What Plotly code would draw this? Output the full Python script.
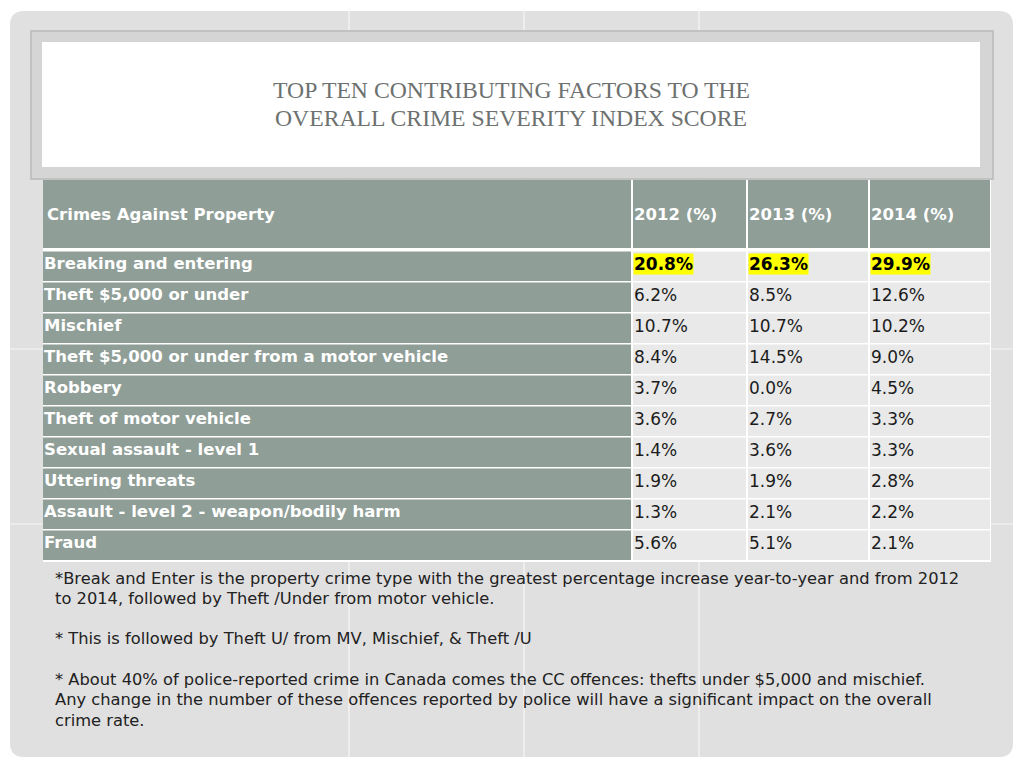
import plotly.graph_objects as go

# ---------------- data ----------------
title_lines = ["TOP TEN CONTRIBUTING FACTORS TO THE", "OVERALL CRIME SEVERITY INDEX SCORE"]
header = ["Crimes Against Property", "2012 (%)", "2013 (%)", "2014 (%)"]
crimes = [
    "Breaking and entering",
    "Theft $5,000 or under",
    "Mischief",
    "Theft $5,000 or under from a motor vehicle",
    "Robbery",
    "Theft of motor vehicle",
    "Sexual assault - level 1",
    "Uttering threats",
    "Assault - level 2 - weapon/bodily harm",
    "Fraud",
]
pct_2012 = [20.8, 6.2, 10.7, 8.4, 3.7, 3.6, 1.4, 1.9, 1.3, 5.6]
pct_2013 = [26.3, 8.5, 10.7, 14.5, 0.0, 2.7, 3.6, 1.9, 2.1, 5.1]
pct_2014 = [29.9, 12.6, 10.2, 9.0, 4.5, 3.3, 3.3, 2.8, 2.2, 2.1]
highlight_rows = [0]
notes = [
    "*Break and Enter is the property crime type with the greatest percentage increase year-to-year and from 2012",
    "to 2014, followed by Theft /Under from motor vehicle.",
    "",
    "* This is followed by Theft U/ from MV, Mischief, & Theft /U",
    "",
    "* About 40% of police-reported crime in Canada comes the CC offences: thefts under $5,000 and mischief.",
    "Any change in the number of these offences reported by police will have a significant impact on the overall",
    "crime rate.",
]

# ---------------- styling / layout ----------------
W, H = 1024, 768
SLIDE_BG = "#e0e0e0"
GREEN = "#8f9e97"
CELL = "#e8e9e8"
TXT = "#1c1c1c"
FONT = "DejaVu Sans"

col_edges = [43, 632, 747, 869, 990]
header_top, header_bot = 180, 249
row_top0, row_h = 251, 31.0

fig = go.Figure()
fig.add_trace(go.Scatter(x=[0, W], y=[0, H], mode="markers", marker=dict(opacity=0),
                         hoverinfo="skip", showlegend=False))

shapes = []


def rrect_path(x0, y0, x1, y1, r):
    return (f"M{x0+r},{y0} L{x1-r},{y0} Q{x1},{y0} {x1},{y0+r} L{x1},{y1-r} "
            f"Q{x1},{y1} {x1-r},{y1} L{x0+r},{y1} Q{x0},{y1} {x0},{y1-r} "
            f"L{x0},{y0+r} Q{x0},{y0} {x0+r},{y0} Z")


# slide background
shapes.append(dict(type="path", path=rrect_path(10, 11, 1013, 757, 14),
                   fillcolor=SLIDE_BG, line=dict(width=0), layer="below"))
# faint white grid lines of the slide background
for gx in [349, 524, 699]:
    shapes.append(dict(type="line", x0=gx, x1=gx, y0=8, y1=757,
                       line=dict(color="#f6f6f6", width=1.2), layer="below"))
for gy in [349, 524]:
    shapes.append(dict(type="line", x0=10, x1=1013, y0=gy, y1=gy,
                       line=dict(color="#f6f6f6", width=1.2), layer="below"))

# title frame
shapes.append(dict(type="rect", x0=31, y0=31, x1=993, y1=179, fillcolor="#d5d5d5",
                   line=dict(color="#b9b9b9", width=1.5), layer="below"))
shapes.append(dict(type="rect", x0=42, y0=42, x1=980, y1=167, fillcolor="#ffffff",
                   line=dict(width=0), layer="below"))

# table white backing
n = len(crimes)
table_bot = row_top0 + n * row_h
shapes.append(dict(type="rect", x0=col_edges[0], y0=header_top, x1=col_edges[-1] + 1,
                   y1=table_bot + 1, fillcolor="#ffffff", line=dict(width=0), layer="below"))

# header cells
for c in range(4):
    shapes.append(dict(type="rect", x0=col_edges[c] + (0 if c == 0 else 1), y0=header_top,
                       x1=col_edges[c + 1] - (1 if c < 3 else 0), y1=header_bot - 1,
                       fillcolor=GREEN, line=dict(width=0), layer="below"))
# body cells
for r in range(n):
    y0 = row_top0 + r * row_h
    for c in range(4):
        shapes.append(dict(type="rect", x0=col_edges[c] + (0 if c == 0 else 1), y0=y0 + 0.5,
                           x1=col_edges[c + 1] - (1 if c < 3 else 0), y1=y0 + row_h - 1,
                           fillcolor=GREEN if c == 0 else CELL, line=dict(width=0),
                           layer="below"))

annotations = []
# title
for i, line in enumerate(title_lines):
    annotations.append(dict(x=511, y=90 + 28 * i, xref="x", yref="y", text=line,
                            showarrow=False, xanchor="center", yanchor="middle",
                            font=dict(family="Liberation Serif", size=23.7, color="#6d716f")))
# header texts
hx = [46, col_edges[1] + 1, col_edges[2] + 1, col_edges[3] + 1]
for c, h in enumerate(header):
    annotations.append(dict(x=hx[c], y=(header_top + header_bot) / 2, xref="x", yref="y",
                            text=f"<b>{h}</b>", showarrow=False, xanchor="left",
                            yanchor="middle", borderpad=0,
                            font=dict(family=FONT, size=16.5, color="#ffffff")))
# rows
years = [pct_2012, pct_2013, pct_2014]
for r in range(n):
    yc = row_top0 + r * row_h + 12.5
    annotations.append(dict(x=col_edges[0], y=yc, xref="x", yref="y",
                            text=f"<b>{crimes[r]}</b>", showarrow=False, xanchor="left",
                            yanchor="middle", borderpad=0,
                            font=dict(family=FONT, size=16.5, color="#ffffff")))
    for k, vals in enumerate(years):
        txt = f"{vals[r]:.1f}%"
        hl = r in highlight_rows
        annotations.append(dict(x=col_edges[k + 1] + 1, y=yc, xref="x", yref="y",
                                text=f"<b>{txt}</b>" if hl else txt, showarrow=False,
                                xanchor="left", yanchor="middle", borderpad=0,
                                bgcolor="#ffff00" if hl else None,
                                font=dict(family=FONT, size=17, color="#000000" if hl else TXT)))
# footnotes (one annotation per line for exact spacing)
for i, line in enumerate(notes):
    if not line:
        continue
    annotations.append(dict(x=54, y=578 + 20.3 * i, xref="x", yref="y", text=line,
                            showarrow=False, xanchor="left", yanchor="middle", align="left",
                            borderpad=0, font=dict(family=FONT, size=16.3, color="#222222")))

fig.update_layout(
    width=W, height=H, margin=dict(l=0, r=0, t=0, b=0),
    paper_bgcolor="#ffffff", plot_bgcolor="#ffffff",
    xaxis=dict(range=[0, W], visible=False, fixedrange=True),
    yaxis=dict(range=[H, 0], visible=False, fixedrange=True),
    shapes=shapes, annotations=annotations, showlegend=False,
)

fig.write_html("out.html", config={"displayModeBar": False},
               post_script="document.body.style.margin='0';")
